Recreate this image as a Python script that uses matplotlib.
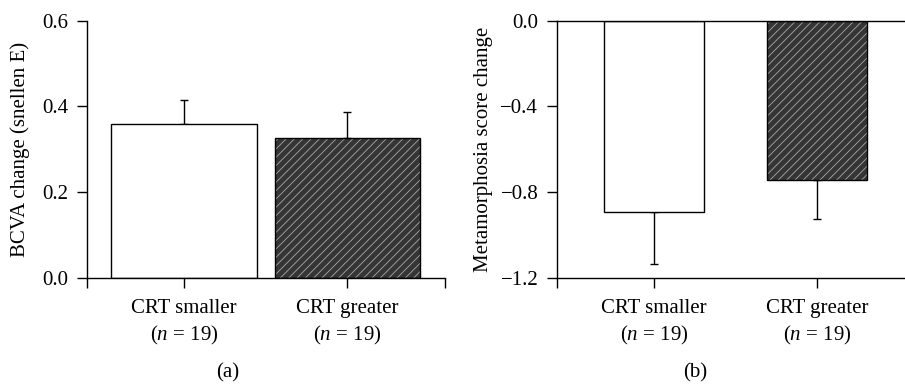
import matplotlib
matplotlib.use("Agg")
import matplotlib.pyplot as plt

plt.rcParams['font.family'] = ['Liberation Serif', 'DejaVu Serif']
plt.rcParams['mathtext.fontset'] = 'custom'
plt.rcParams['mathtext.rm'] = 'Liberation Serif'
plt.rcParams['mathtext.it'] = 'Liberation Serif:italic'
plt.rcParams['hatch.linewidth'] = 0.6
plt.rcParams['axes.unicode_minus'] = True

categories = ["CRT smaller\n($n$ = 19)", "CRT greater\n($n$ = 19)"]
bcva_change = [0.36, 0.326]
bcva_err = [0.056, 0.060]
meta_change = [-0.892, -0.743]
meta_err = [0.243, 0.182]
yticks_a = [0.0, 0.2, 0.4, 0.6]
yticks_b = [0.0, -0.4, -0.8, -1.2]
panel_labels = ["(a)", "(b)"]

W, H = 905, 385
fig = plt.figure(figsize=(W / 100, H / 100), dpi=100)

def px_box(left, right, top, bottom):
    return [left / W, 1 - bottom / H, (right - left) / W, (bottom - top) / H]

ax_a = fig.add_axes(px_box(87, 445, 20.7, 278))
ax_b = fig.add_axes(px_box(557, 915, 20.7, 278))

FS = 15
xpos = [0, 1]
XMIN, XMAX = -0.595, 1.60
HATCH_FACE = '#353535'
HATCH_LINE = '#a8a8a8'

def style(ax, ylim, yticks, fmt):
    ax.set_xlim(XMIN, XMAX)
    ax.set_ylim(*ylim)
    for s in ['top', 'right']:
        ax.spines[s].set_visible(False)
    for s in ['left', 'bottom']:
        ax.spines[s].set_linewidth(1.0)
    ax.set_yticks(yticks)
    ax.set_yticklabels([fmt(v) for v in yticks], fontsize=FS)
    ax.set_xticks(xpos)
    ax.set_xticklabels(categories, fontsize=FS, linespacing=1.35)
    ax.set_xticks([XMIN, XMAX], minor=True)
    ax.tick_params(axis='both', which='both', direction='out', length=7, width=1.0, pad=6.5)
    ax.tick_params(axis='x', which='major', pad=8)

def fmt_num(v):
    s = f"{abs(v):.1f}"
    return ("\u2212" + s) if v < 0 else s

# Panel a
style(ax_a, (0, 0.6), yticks_a, fmt_num)
wa = 0.89
ax_a.bar(xpos[0], bcva_change[0], width=wa, color='white', edgecolor='black', linewidth=1.0, zorder=2)
ax_a.bar(xpos[1], bcva_change[1], width=wa, color=HATCH_FACE, edgecolor=HATCH_LINE, hatch='////', linewidth=0, zorder=2)
ax_a.bar(xpos[1], bcva_change[1], width=wa, fill=False, edgecolor='black', linewidth=1.0, zorder=3)
ax_a.errorbar(xpos, bcva_change, yerr=[[0, 0], bcva_err], fmt='none', ecolor='black',
              elinewidth=1.0, capsize=3, capthick=1.0, zorder=1)
ax_a.set_ylabel("BCVA change (snellen E)", fontsize=FS)
ax_a.yaxis.set_label_coords((30 - 87) / 358, 0.5)

# Panel b
style(ax_b, (-1.2, 0), yticks_b, fmt_num)
wb = 0.61
ax_b.bar(xpos[0], meta_change[0], width=wb, color='white', edgecolor='black', linewidth=1.0, zorder=2)
ax_b.bar(xpos[1], meta_change[1], width=wb, color=HATCH_FACE, edgecolor=HATCH_LINE, hatch='////', linewidth=0, zorder=2)
ax_b.bar(xpos[1], meta_change[1], width=wb, fill=False, edgecolor='black', linewidth=1.0, zorder=3)
ax_b.errorbar(xpos, meta_change, yerr=[meta_err, [0, 0]], fmt='none', ecolor='black',
              elinewidth=1.0, capsize=3, capthick=1.0, zorder=1)
ax_b.axhline(0, color='black', linewidth=1.0, zorder=4, clip_on=False)
ax_b.set_ylabel("Metamorphosia score change", fontsize=FS)
ax_b.yaxis.set_label_coords((493 - 557) / 358, 0.5)

fig.text(228 / W, 1 - 373 / H, panel_labels[0], fontsize=FS, ha='center', va='center')
fig.text(695 / W, 1 - 373 / H, panel_labels[1], fontsize=FS, ha='center', va='center')

fig.savefig("out.png", dpi=100)
